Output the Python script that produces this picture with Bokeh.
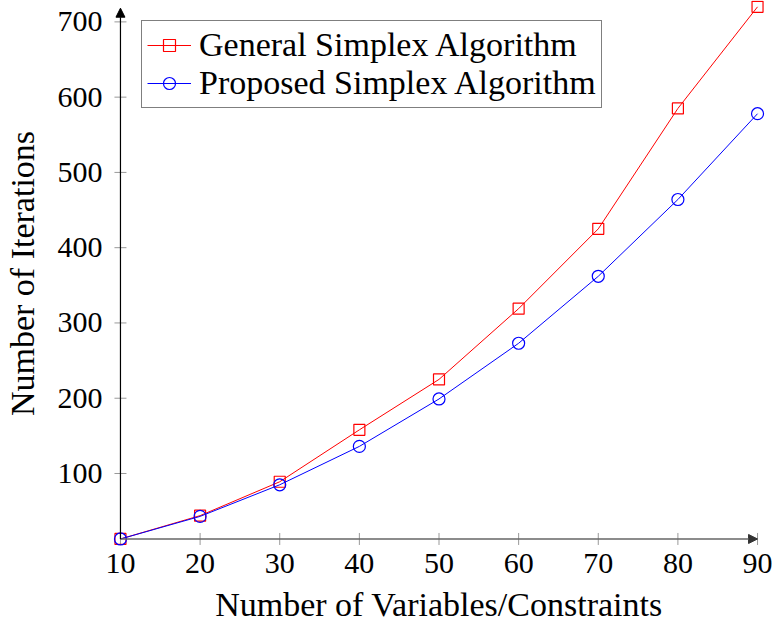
import math
from bokeh.plotting import figure
from bokeh.models import Range1d, Legend, LegendItem, Arrow, NormalHead, FixedTicker
from bokeh.embed import file_html
from bokeh.resources import INLINE

x_vals = [10, 20, 30, 40, 50, 60, 70, 80, 90]
general = [13, 44, 89, 158, 225, 319, 425, 585, 720]
proposed = [13, 43, 85, 136, 199, 273, 362, 464, 578]
x_ticks = [10, 20, 30, 40, 50, 60, 70, 80, 90]
y_ticks = [100, 200, 300, 400, 500, 600, 700]

X_MIN, X_MAX = 10, 90
Y_MIN, Y_MAX = 13, 718.2

FONT = "Liberation Serif"
TICK_FS = "30px"
LABEL_FS = "34px"
LEGEND_FS = "34px"

p = figure(width=774, height=630, output_backend="svg", toolbar_location=None,
           x_range=Range1d(9, 91), y_range=Range1d(3, 728.4),
           min_border_left=110, min_border_right=9, min_border_top=0, min_border_bottom=84)
p.outline_line_color = None
p.grid.visible = False
p.background_fill_color = "white"

for ax in (p.xaxis[0], p.yaxis[0]):
    ax.major_label_text_font = FONT
    ax.major_label_text_font_size = TICK_FS
    ax.major_label_text_color = "black"
    ax.axis_label_text_font = FONT
    ax.axis_label_text_font_size = LABEL_FS
    ax.axis_label_text_font_style = "normal"
    ax.axis_label_text_color = "black"
    ax.minor_tick_line_color = None
    ax.major_tick_line_color = None
    ax.major_tick_out = 0
    ax.major_tick_in = 0
    ax.axis_line_color = None

p.xaxis[0].ticker = FixedTicker(ticks=x_ticks)
p.yaxis[0].ticker = FixedTicker(ticks=y_ticks)
p.xaxis[0].major_label_standoff = 7
p.yaxis[0].major_label_standoff = 10
p.xaxis[0].axis_label = "Number of Variables/Constraints"
p.yaxis[0].axis_label = "Number of Iterations"
p.xaxis[0].axis_label_standoff = 10
p.yaxis[0].axis_label_standoff = 14

# tick marks crossing the axis lines (drawn at the data-space axis position)
p.scatter([X_MIN] * len(y_ticks), y_ticks, marker="dash", size=12,
          line_color="#999999", line_width=1)
p.scatter(x_ticks, [Y_MIN] * len(x_ticks), marker="dash", size=12, angle=math.pi / 2,
          line_color="#999999", line_width=1)

# axis lines with arrow tips
p.add_layout(Arrow(end=NormalHead(size=9, fill_color="#333333", line_color="#333333"),
                   x_start=X_MIN, y_start=Y_MIN, x_end=X_MAX, y_end=Y_MIN,
                   line_color="#666666", line_width=1.5))
p.add_layout(Arrow(end=NormalHead(size=9, fill_color="black", line_color="black"),
                   x_start=X_MIN, y_start=Y_MIN, x_end=X_MIN, y_end=Y_MAX,
                   line_color="black", line_width=1.2))

r1 = p.line(x_vals, general, line_color="#ff0000", line_width=1)
m1 = p.scatter(x_vals, general, marker="square", size=11, line_color="#ff0000",
               fill_alpha=0, line_width=1.2)
r2 = p.line(x_vals, proposed, line_color="#0000ff", line_width=1)
m2 = p.scatter(x_vals, proposed, marker="circle", size=12, line_color="#0000ff",
               fill_alpha=0, line_width=1.2)

legend = Legend(items=[LegendItem(label="General Simplex Algorithm", renderers=[r1, m1]),
                       LegendItem(label="Proposed Simplex Algorithm", renderers=[r2, m2])],
                location=(29, 438))
legend.label_text_font = FONT
legend.label_text_font_size = LEGEND_FS
legend.label_text_color = "black"
legend.border_line_color = "black"
legend.border_line_width = 1
legend.background_fill_alpha = 1
legend.padding = 5
legend.margin = 0
legend.spacing = 0
legend.glyph_width = 44
legend.glyph_height = 30
legend.label_height = 30
legend.label_standoff = 8
p.add_layout(legend)

open("out.html", "w").write(file_html(p, INLINE))
